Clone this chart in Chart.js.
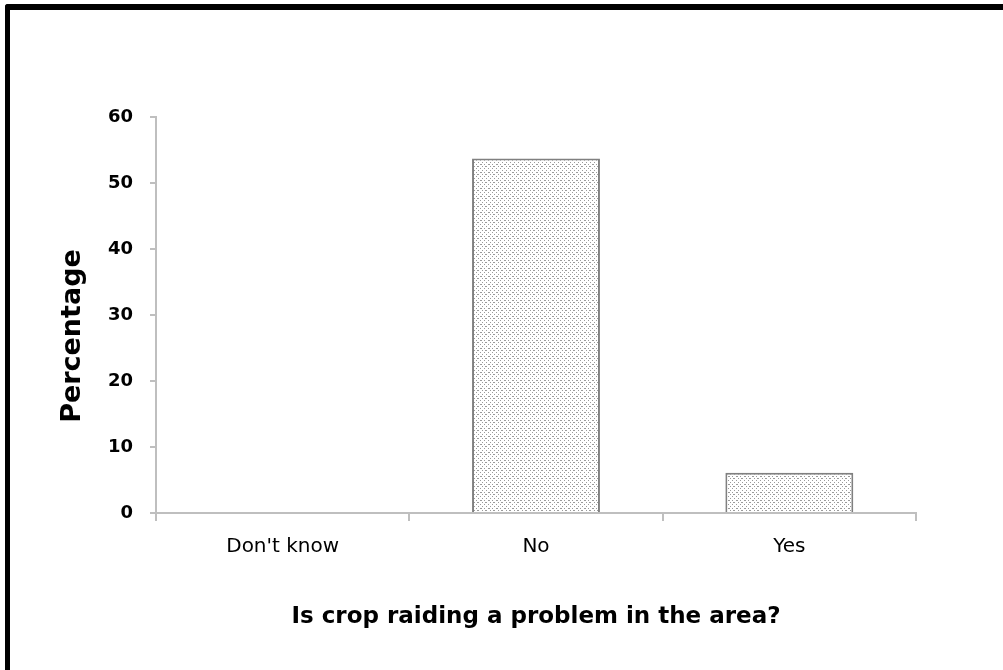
<!DOCTYPE html>
<html>
<head>
<meta charset="utf-8">
<script src="https://cdn.jsdelivr.net/npm/chart.js@4"></script>
<style>
  body { margin: 0; background: #fff; }
  #wrap { position: relative; width: 1003px; height: 670px; overflow: hidden; }
  #frame { position: absolute; left: 5px; top: 4px; width: 1100px; height: 800px;
           border-top: 6px solid #000; border-left: 5px solid #000; border-top-left-radius: 3px; }
  canvas { position: absolute; left: 0; top: 0; }
</style>
</head>
<body>
<div id="wrap">
  <canvas id="chart" width="1003" height="670"></canvas>
  <div id="frame"></div>
</div>
<script>
// data
const categories = ["Don't know", "No", "Yes"];
const percentages = [0, 53.7, 6.1];
const yTicks = [0, 10, 20, 30, 40, 50, 60];
const xTitle = "Is crop raiding a problem in the area?";
const yTitle = "Percentage";

// tečkovaný vzor pro výplň sloupců
function makeDots() {
    const c = document.createElement("canvas");
    c.width = 8; c.height = 8;
    const g = c.getContext("2d");
    g.fillStyle = "#ffffff";
    g.fillRect(0, 0, 8, 8);
    g.fillStyle = "#9a9a9a";
    const dots = [[0,0],[4,0],[2,2],[6,2],[0,4],[4,4],[1,4],[2,6],[6,6],[5,6]];
    dots.forEach(function (d) { g.fillRect(d[0], d[1], 1, 1); });
    return g.createPattern(c, "repeat");
}

// popisek osy Y kreslený ručně (v originále je posunutý níž než střed osy)
const yTitlePlugin = {
    id: 'yTitle',
    afterDraw: function (chart) {
        const a = chart.chartArea;
        const g = chart.ctx;
        g.save();
        g.translate(73, (a.top + a.bottom) / 2 + 21);
        g.rotate(-Math.PI / 2);
        g.font = "bold 27px 'DejaVu Sans'";
        g.fillStyle = '#000';
        g.textAlign = 'center';
        g.textBaseline = 'middle';
        g.fillText(yTitle, 0, 0);
        g.restore();
    }
};

document.addEventListener("DOMContentLoaded", function () {
    const ctx = document.getElementById("chart").getContext("2d");
    const axisGrey = "#bfbfbf";

    new Chart(ctx, {
        type: 'bar',
        data: {
            labels: categories,
            datasets: [{
                data: percentages,
                backgroundColor: makeDots(),
                borderColor: '#808080',
                borderWidth: 2,
                categoryPercentage: 1,
                barPercentage: 0.505
            }]
        },
        options: {
            responsive: false,
            animation: false,
            events: [],
            layout: { padding: { left: 12, right: 87, top: 117, bottom: 0 } },
            plugins: { legend: { display: false }, tooltip: { enabled: false } },
            scales: {
                x: {
                    afterFit: function (s) { s.height = 157; },
                    grid: { display: true, offset: true, drawOnChartArea: false, color: axisGrey, lineWidth: 2, tickLength: 8 },
                    border: { color: axisGrey, width: 2 },
                    ticks: { color: '#000', padding: 14, font: { family: 'DejaVu Sans', size: 20 } },
                    title: {
                        display: true, text: xTitle, color: '#000',
                        font: { family: 'DejaVu Sans', size: 23, weight: 'bold' },
                        padding: { top: 0, bottom: 39 }
                    }
                },
                y: {
                    min: 0, max: 60,
                    afterFit: function (s) { s.width = 144; },
                    afterBuildTicks: function (s) { s.ticks = yTicks.map(function (v) { return { value: v }; }); },
                    grid: { display: true, drawOnChartArea: false, color: axisGrey, lineWidth: 2, tickLength: 6 },
                    border: { color: axisGrey, width: 2 },
                    ticks: { color: '#000', padding: 17, font: { family: 'DejaVu Sans', size: 18, weight: 'bold' } },
                    title: { display: false }
                }
            }
        },
        plugins: [yTitlePlugin]
    });
});
</script>
</body>
</html>
